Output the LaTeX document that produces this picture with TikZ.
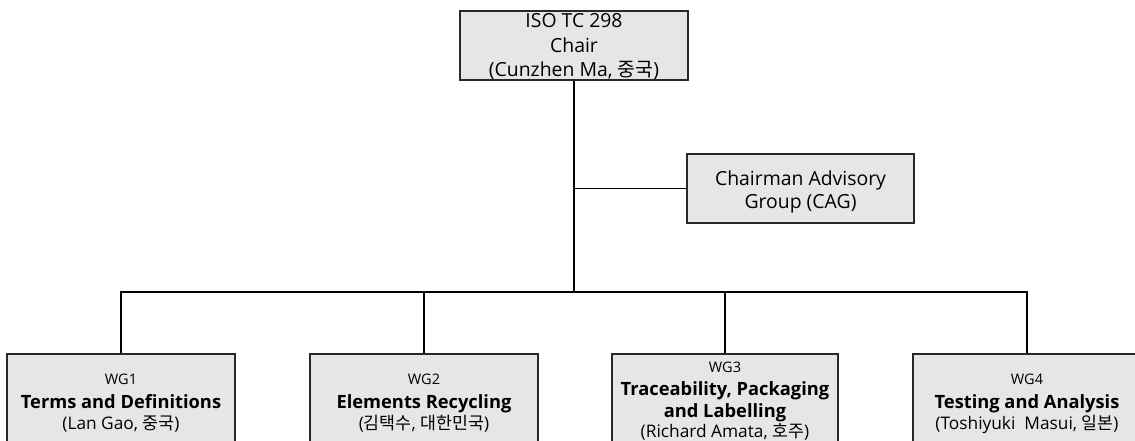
\documentclass[tikz,border=0pt]{standalone}
\usepackage{fontspec}
\setmainfont{Open Sans}
\newfontfamily\kr{Noto Sans CJK KR}
\definecolor{boxfill}{RGB}{230,230,230}
\definecolor{boxline}{RGB}{40,40,40}
\tikzset{
  orgbox/.style={draw=boxline, fill=boxfill, line width=1.3pt, inner sep=0pt},
  txt/.style={anchor=base, inner sep=0pt, text=black},
  bigtxt/.style={txt, font=\fontsize{19.4}{22}\selectfont},
  wgtxt/.style={txt, font=\fontsize{14.5}{17}\selectfont},
  nametxt/.style={txt, font=\fontsize{17.3}{20}\selectfont},
  boldtxt/.style={txt, font=\fontsize{18.3}{22}\selectfont\bfseries},
  conn/.style={line width=1.4pt, draw=black}
}
\begin{document}
\begin{tikzpicture}[x=1pt,y=-1pt]
\clip (0,0) rectangle (1135,441);
\fill[white] (0,0) rectangle (1135,441);
% boxes
\node[orgbox, minimum width=228pt, minimum height=69pt] (top) at (574,45.5) {};
\node[orgbox, minimum width=227pt, minimum height=69pt] (cag) at (800.5,188.5) {};
\node[orgbox, minimum width=228pt, minimum height=98pt] (w1) at (121,403) {};
\node[orgbox, minimum width=228pt, minimum height=98pt] (w2) at (424,403) {};
\node[orgbox, minimum width=226pt, minimum height=98pt] (w3) at (725,403) {};
\node[orgbox, minimum width=228pt, minimum height=98pt] (w4) at (1027,403) {};
% connectors
\coordinate (bus) at (574,292);
\draw[conn] (top.south) -- (bus);
\draw[conn] (cag.west) -- (cag.west -| top.south);
\draw[conn] (w1.north) |- (bus);
\draw[conn] (bus) -| (w4.north);
\draw[conn] (w2.north) -- (w2.north |- bus);
\draw[conn] (w3.north) -- (w3.north |- bus);
% texts
\node[bigtxt] (t1) at (574,28) {ISO TC 298};
\node[bigtxt] (t2) at (574,53) {Chair};
\node[bigtxt] (t3) at (574,77) {(Cunzhen Ma, {\kr 중국})};
\node[bigtxt] (c1) at (800.5,185) {Chairman Advisory};
\node[bigtxt] (c2) at (800.5,208) {Group (CAG)};
\node[wgtxt] (a1) at (121,384) {WG1};
\node[boldtxt] (a2) at (121,408) {Terms and Definitions};
\node[nametxt] (a3) at (121,429) {(Lan Gao, {\kr 중국})};
\node[wgtxt] (b1) at (424,384) {WG2};
\node[boldtxt] (b2) at (424,408) {Elements Recycling};
\node[nametxt] (b3) at (424,429) {({\kr 김택수}, {\kr 대한민국})};
\node[wgtxt] (d1) at (725,372) {WG3};
\node[boldtxt] (d2) at (725,395) {Traceability, Packaging};
\node[boldtxt] (d3) at (725,417) {and Labelling};
\node[nametxt] (d4) at (725,437) {(Richard Amata, {\kr 호주})};
\node[wgtxt] (e1) at (1027,384) {WG4};
\node[boldtxt] (e2) at (1027,408) {Testing and Analysis};
\node[nametxt] (e3) at (1027,429) {(Toshiyuki~ Masui, {\kr 일본})};
\end{tikzpicture}
\end{document}
